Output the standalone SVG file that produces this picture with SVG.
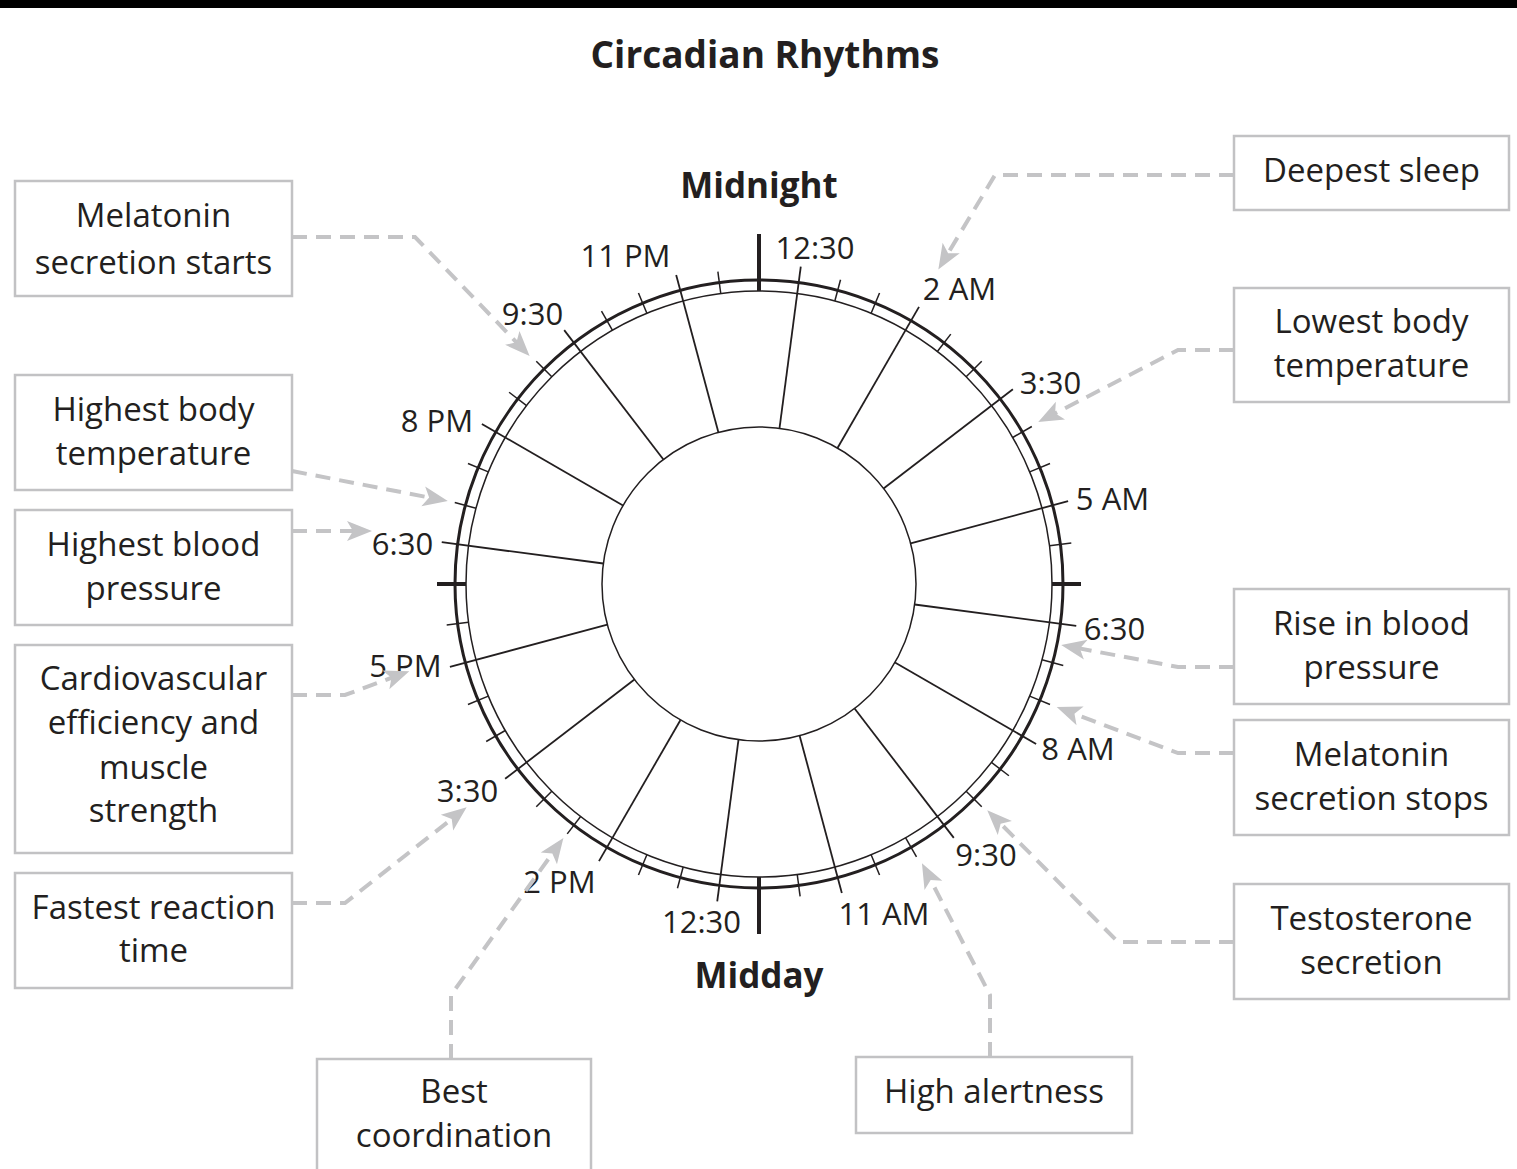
<svg xmlns="http://www.w3.org/2000/svg" xmlns:xlink="http://www.w3.org/1999/xlink" width="1517" height="1169" viewBox="0 0 1517 1169">
<style>
  text { font-family: "Open Sans", "Liberation Sans", sans-serif; fill: #231f20; }
  .title { font-size: 37px; font-weight: bold; text-anchor: middle; }
  .cap { font-size: 35px; font-weight: bold; text-anchor: middle; }
  .time { font-size: 31px; text-anchor: middle; }
  .lbl { font-size: 33px; text-anchor: middle; }
  .box { fill: #ffffff; stroke: #c2c2c4; stroke-width: 2.5; }
  .conn { fill: none; stroke: #c4c4c6; stroke-width: 4; stroke-dasharray: 15 9; }
  .ring { fill: none; stroke: #231f20; }
  .spoke { stroke: #231f20; stroke-width: 1.8; }
  .minor { stroke: #231f20; stroke-width: 1.5; }
  .major { stroke: #231f20; stroke-width: 4; }
</style>
<defs>
  <marker id="arr" markerUnits="userSpaceOnUse" viewBox="-16 -12 28 24" refX="0" refY="0" markerWidth="28" markerHeight="24" orient="auto">
    <path d="M11,0 L-14,-10 L-8,0 L-14,10 Z" fill="#c4c4c6"/>
  </marker>
  <line id="sp" x1="0" y1="-157" x2="0" y2="-320" class="spoke"/>
  <line id="mt" x1="0" y1="-293" x2="0" y2="-315" class="minor"/>
</defs>
<rect x="0" y="0" width="1517" height="1169" fill="#ffffff"/>
<rect x="0" y="0" width="1517" height="8" fill="#000000"/>
<text class="title" x="765" y="68">Circadian Rhythms</text>

<g id="clock">
  <g transform="translate(759,584)">
    <circle class="ring" r="304" stroke-width="3"/>
    <circle class="ring" r="293" stroke-width="1.5"/>
    <circle class="ring" r="157" stroke-width="1.5"/>
    <use href="#sp" transform="rotate(7.5)"/>
    <use href="#sp" transform="rotate(30)"/>
    <use href="#sp" transform="rotate(52.5)"/>
    <use href="#sp" transform="rotate(75)"/>
    <use href="#sp" transform="rotate(97.5)"/>
    <use href="#sp" transform="rotate(120)"/>
    <use href="#sp" transform="rotate(142.5)"/>
    <use href="#sp" transform="rotate(165)"/>
    <use href="#sp" transform="rotate(187.5)"/>
    <use href="#sp" transform="rotate(210)"/>
    <use href="#sp" transform="rotate(232.5)"/>
    <use href="#sp" transform="rotate(255)"/>
    <use href="#sp" transform="rotate(277.5)"/>
    <use href="#sp" transform="rotate(300)"/>
    <use href="#sp" transform="rotate(322.5)"/>
    <use href="#sp" transform="rotate(345)"/>
    <use href="#mt" transform="rotate(15)"/>
    <use href="#mt" transform="rotate(22.5)"/>
    <use href="#mt" transform="rotate(37.5)"/>
    <use href="#mt" transform="rotate(45)"/>
    <use href="#mt" transform="rotate(60)"/>
    <use href="#mt" transform="rotate(67.5)"/>
    <use href="#mt" transform="rotate(82.5)"/>
    <use href="#mt" transform="rotate(105)"/>
    <use href="#mt" transform="rotate(112.5)"/>
    <use href="#mt" transform="rotate(127.5)"/>
    <use href="#mt" transform="rotate(135)"/>
    <use href="#mt" transform="rotate(150)"/>
    <use href="#mt" transform="rotate(157.5)"/>
    <use href="#mt" transform="rotate(172.5)"/>
    <use href="#mt" transform="rotate(195)"/>
    <use href="#mt" transform="rotate(202.5)"/>
    <use href="#mt" transform="rotate(217.5)"/>
    <use href="#mt" transform="rotate(225)"/>
    <use href="#mt" transform="rotate(240)"/>
    <use href="#mt" transform="rotate(247.5)"/>
    <use href="#mt" transform="rotate(262.5)"/>
    <use href="#mt" transform="rotate(285)"/>
    <use href="#mt" transform="rotate(292.5)"/>
    <use href="#mt" transform="rotate(307.5)"/>
    <use href="#mt" transform="rotate(315)"/>
    <use href="#mt" transform="rotate(330)"/>
    <use href="#mt" transform="rotate(337.5)"/>
    <use href="#mt" transform="rotate(352.5)"/>
    <line class="major" x1="0" y1="-293" x2="0" y2="-350"/>
    <line class="major" x1="0" y1="293" x2="0" y2="350"/>
    <line class="major" x1="-293" y1="0" x2="-322" y2="0"/>
    <line class="major" x1="293" y1="0" x2="322" y2="0"/>
  </g>
  <text class="cap" x="759" y="198">Midnight</text>
  <text class="cap" x="759" y="988">Midday</text>
  <text class="time" x="625.5" y="267">11 PM</text>
  <text class="time" x="815" y="259">12:30</text>
  <text class="time" x="959.5" y="300">2 AM</text>
  <text class="time" x="1050.5" y="394">3:30</text>
  <text class="time" x="1112.5" y="510">5 AM</text>
  <text class="time" x="1114.5" y="640">6:30</text>
  <text class="time" x="1078" y="760">8 AM</text>
  <text class="time" x="986" y="866">9:30</text>
  <text class="time" x="884" y="925">11 AM</text>
  <text class="time" x="701.5" y="933">12:30</text>
  <text class="time" x="559.5" y="893">2 PM</text>
  <text class="time" x="467.5" y="802">3:30</text>
  <text class="time" x="405.5" y="677">5 PM</text>
  <text class="time" x="402.5" y="555">6:30</text>
  <text class="time" x="437" y="432">8 PM</text>
  <text class="time" x="532.5" y="325">9:30</text>
</g>

<g id="connectors">
  <path class="conn" marker-end="url(#arr)" d="M292,237 L415,237 L522,348"/>
  <path class="conn" marker-end="url(#arr)" d="M292,471 L437,499"/>
  <path class="conn" marker-end="url(#arr)" d="M292,531 L361,531"/>
  <path class="conn" marker-end="url(#arr)" d="M292,695 L345,695 L399,675"/>
  <path class="conn" marker-end="url(#arr)" d="M292,903 L345,903 L458,814"/>
  <path class="conn" marker-end="url(#arr)" d="M451,1059 L451,995 L557,847"/>
  <path class="conn" marker-end="url(#arr)" d="M990,1057 L990,995 L927,873"/>
  <path class="conn" marker-end="url(#arr)" d="M1234,942 L1118,942 L995,818"/>
  <path class="conn" marker-end="url(#arr)" d="M1234,753 L1178,753 L1067,711"/>
  <path class="conn" marker-end="url(#arr)" d="M1234,667 L1178,667 L1072,647"/>
  <path class="conn" marker-end="url(#arr)" d="M1234,350 L1178,350 L1048,417"/>
  <path class="conn" marker-end="url(#arr)" d="M1234,175 L995,175 L944,260"/>
</g>

<g id="n-melatonin-starts">
  <rect class="box" x="15" y="181" width="277" height="115"/>
  <text class="lbl" x="153.5" y="227">Melatonin</text>
  <text class="lbl" x="153.5" y="274">secretion starts</text>
</g>
<g id="n-highest-body-temp">
  <rect class="box" x="15" y="375" width="277" height="115"/>
  <text class="lbl" x="153.5" y="421">Highest body</text>
  <text class="lbl" x="153.5" y="465">temperature</text>
</g>
<g id="n-highest-bp">
  <rect class="box" x="15" y="510" width="277" height="115"/>
  <text class="lbl" x="153.5" y="556">Highest blood</text>
  <text class="lbl" x="153.5" y="600">pressure</text>
</g>
<g id="n-cardio">
  <rect class="box" x="15" y="645" width="277" height="208"/>
  <text class="lbl" x="153.5" y="690">Cardiovascular</text>
  <text class="lbl" x="153.5" y="734">efficiency and</text>
  <text class="lbl" x="153.5" y="779">muscle</text>
  <text class="lbl" x="153.5" y="822">strength</text>
</g>
<g id="n-fastest-reaction">
  <rect class="box" x="15" y="873" width="277" height="115"/>
  <text class="lbl" x="153.5" y="919">Fastest reaction</text>
  <text class="lbl" x="153.5" y="962">time</text>
</g>
<g id="n-best-coordination">
  <rect class="box" x="317" y="1059" width="274" height="130"/>
  <text class="lbl" x="454" y="1103">Best</text>
  <text class="lbl" x="454" y="1147">coordination</text>
</g>
<g id="n-high-alertness">
  <rect class="box" x="856" y="1057" width="276" height="76"/>
  <text class="lbl" x="994" y="1103">High alertness</text>
</g>
<g id="n-deepest-sleep">
  <rect class="box" x="1234" y="136" width="275" height="74"/>
  <text class="lbl" x="1371.5" y="182">Deepest sleep</text>
</g>
<g id="n-lowest-body-temp">
  <rect class="box" x="1234" y="288" width="275" height="114"/>
  <text class="lbl" x="1371.5" y="333">Lowest body</text>
  <text class="lbl" x="1371.5" y="377">temperature</text>
</g>
<g id="n-rise-bp">
  <rect class="box" x="1234" y="589" width="275" height="115"/>
  <text class="lbl" x="1371.5" y="635">Rise in blood</text>
  <text class="lbl" x="1371.5" y="679">pressure</text>
</g>
<g id="n-melatonin-stops">
  <rect class="box" x="1234" y="720" width="275" height="115"/>
  <text class="lbl" x="1371.5" y="766">Melatonin</text>
  <text class="lbl" x="1371.5" y="810">secretion stops</text>
</g>
<g id="n-testosterone">
  <rect class="box" x="1234" y="884" width="275" height="115"/>
  <text class="lbl" x="1371.5" y="930">Testosterone</text>
  <text class="lbl" x="1371.5" y="974">secretion</text>
</g>
</svg>
